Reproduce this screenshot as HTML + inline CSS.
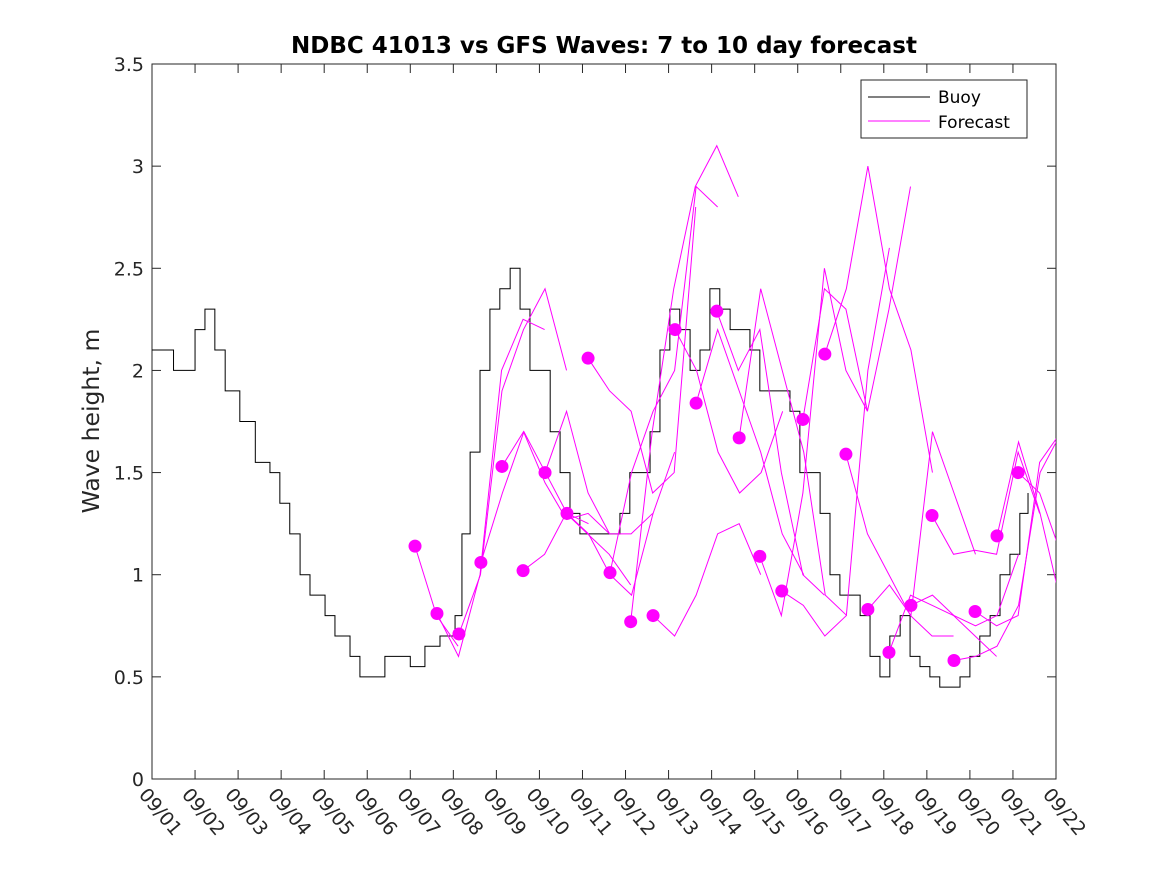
<!DOCTYPE html>
<html><head><meta charset="utf-8"><style>
body{margin:0;background:#fff;font-family:"DejaVu Sans","Liberation Sans",sans-serif;}
</style></head><body>
<svg id="chart" width="1167" height="875" xmlns="http://www.w3.org/2000/svg" style="display:block;font-family:'DejaVu Sans','Liberation Sans',sans-serif">
<defs><clipPath id="pc"><rect x="152" y="64" width="904" height="715"/></clipPath></defs>
<rect x="0" y="0" width="1167" height="875" fill="#fff"/>
<rect x="152" y="64" width="904" height="715" fill="#fff" stroke="#262626" stroke-width="1"/>
<text x="604" y="53" text-anchor="middle" font-size="23" font-weight="bold" fill="#000">NDBC 41013 vs GFS Waves: 7 to 10 day forecast</text>
<text transform="translate(99,421) rotate(-90)" text-anchor="middle" font-size="23.5" fill="#262626">Wave height, m</text>
<g id="axes"></g><g id="series" clip-path="url(#pc)"></g>
<g>
<rect x="861" y="80" width="166" height="58" fill="#fff" stroke="#262626"/>
<line x1="868" y1="97" x2="930" y2="97" stroke="#000"/><text x="938" y="103" font-size="17" fill="#000">Buoy</text>
<line x1="868" y1="121" x2="930" y2="121" stroke="#f0f"/><text x="938" y="128" font-size="17" fill="#000">Forecast</text>
</g>
</svg>
<script>
const xTickLabels=["09/01","09/02","09/03","09/04","09/05","09/06","09/07","09/08","09/09","09/10","09/11","09/12","09/13","09/14","09/15","09/16","09/17","09/18","09/19","09/20","09/21","09/22"];
const yTicks=[0,0.5,1,1.5,2,2.5,3,3.5];
const buoyDays=[0,0.5,1.0,1.23,1.46,1.7,2.04,2.4,2.74,2.97,3.2,3.44,3.67,4.02,4.25,4.6,4.83,5.18,5.41,5.76,6.0,6.34,6.69,7.04,7.2,7.39,7.62,7.85,8.08,8.32,8.55,8.78,9.01,9.25,9.48,9.71,9.94,10.17,10.41,10.64,10.87,11.1,11.34,11.57,11.8,12.03,12.26,12.5,12.73,12.96,13.19,13.43,13.66,13.89,14.12,14.36,14.59,14.82,15.05,15.28,15.52,15.75,15.98,16.21,16.45,16.68,16.91,17.14,17.38,17.61,17.84,18.07,18.3,18.54,18.77,19.0,19.23,19.47,19.7,19.93,20.16,20.35];
const buoyValues=[2.1,2.0,2.2,2.3,2.1,1.9,1.75,1.55,1.5,1.35,1.2,1.0,0.9,0.8,0.7,0.6,0.5,0.5,0.6,0.6,0.55,0.65,0.7,0.8,1.2,1.6,2.0,2.3,2.4,2.5,2.3,2.0,2.0,1.7,1.5,1.3,1.2,1.2,1.2,1.2,1.3,1.5,1.5,1.7,2.1,2.3,2.2,2.0,2.1,2.4,2.3,2.2,2.2,2.1,1.9,1.9,1.9,1.8,1.5,1.5,1.3,1.0,0.9,0.9,0.8,0.6,0.5,0.7,0.8,0.6,0.55,0.5,0.45,0.45,0.5,0.6,0.7,0.8,1.0,1.1,1.3,1.4];
const fcStartDays=[6.11,6.62,7.13,7.64,8.13,8.62,9.13,9.64,10.13,10.64,11.12,11.64,12.15,12.64,13.12,13.64,14.12,14.63,15.12,15.63,16.12,16.63,17.12,17.63,18.12,18.63,19.12,19.63,20.12];
const fcValues=[
[1.14,0.8,0.65],[0.81,0.6,1.0,2.0,2.25,2.2],[0.71,1.0,1.9,2.2,2.4,2.0],[1.06,1.4,1.7,1.5,1.3,1.25],
[1.53,1.7,1.45,1.27,1.3,1.2],[1.02,1.1,1.3,1.2,1.1,0.95],[1.50,1.8,1.4,1.2,1.2,1.3],[1.30,1.2,1.0,0.9,1.3,1.6],
[2.06,1.9,1.8,1.4,1.5,2.8],[1.01,1.5,1.8,2.0,2.9,2.8],[0.77,1.7,2.4,2.9,3.1,2.85],[0.80,0.7,0.9,1.2,1.25,1.0],
[2.20,2.0,1.6,1.4,1.5,1.8],[1.84,2.2,1.9,1.6,1.2,1.0],[2.29,2.0,2.2,1.5,1.0,0.9],[1.67,2.4,2.0,1.6,0.9,0.8],
[1.09,0.8,1.4,2.5,2.0,1.8],[0.92,0.85,0.7,0.8,2.0,2.6],[1.76,2.4,2.3,1.8,2.3,2.9],[2.08,2.4,3.0,2.4,2.1,1.5],
[1.59,1.2,1.0,0.8,0.7,0.7],[0.83,0.95,0.8,1.7,1.4,1.1],[0.62,0.9,0.85,0.8,0.7,0.6],[0.85,0.9,0.8,0.75,0.8,1.1],
[1.29,1.1,1.12,1.1,1.6,1.3],[0.58,0.6,0.65,0.85,1.5,1.7],[0.82,0.75,0.8,1.55,1.7,1.85],[1.19,1.65,1.3,0.85,0.75],[1.50,1.4,1.1,0.8]];
const X0=152,X1=1056,Y0=779,Y1=64;
const xs=d=>X0+d*(X1-X0)/21, ys=v=>Y0-v*(Y0-Y1)/3.5;
const NS="http://www.w3.org/2000/svg";
const ax=document.getElementById('axes'), se=document.getElementById('series');
function mk(tag,attrs,parent){const e=document.createElementNS(NS,tag);for(const k in attrs)e.setAttribute(k,attrs[k]);parent.appendChild(e);return e;}
yTicks.forEach(v=>{const y=ys(v);
mk('line',{x1:X0,x2:X0+9,y1:y,y2:y,stroke:'#262626'},ax);mk('line',{x1:X1,x2:X1-9,y1:y,y2:y,stroke:'#262626'},ax);
const t=mk('text',{x:X0-8,y:y+7,'text-anchor':'end','font-size':19,fill:'#262626'},ax);t.textContent=String(v);

});
xTickLabels.forEach((s,i)=>{const x=xs(i);
mk('line',{x1:x,x2:x,y1:Y0,y2:Y0-9,stroke:'#262626'},ax);mk('line',{x1:x,x2:x,y1:Y1,y2:Y1+9,stroke:'#262626'},ax);
const t=mk('text',{x:0,y:0,transform:`translate(${x-14},${Y0+16}) rotate(50)`,'font-size':19,fill:'#262626'},ax);t.textContent=s;

});
let d='';buoyDays.forEach((dd,i)=>{const x=xs(dd),y=ys(buoyValues[i]);d+=(i?`H${x}V${y}`:`M${x},${y}`);});
const bl=mk('path',{d:d,fill:'none',stroke:'#000','stroke-width':1},se);


fcStartDays.forEach((sd,i)=>{const vals=fcValues[i];
const p=vals.map((v,j)=>`${xs(sd+j*0.5)},${ys(v)}`).join(' ');
const l=mk('polyline',{points:p,fill:'none',stroke:'#f0f','stroke-width':1},se);


const c=mk('circle',{cx:xs(sd),cy:ys(vals[0]),r:6.5,fill:'#f0f'},se);

});
</script>
</body></html>
